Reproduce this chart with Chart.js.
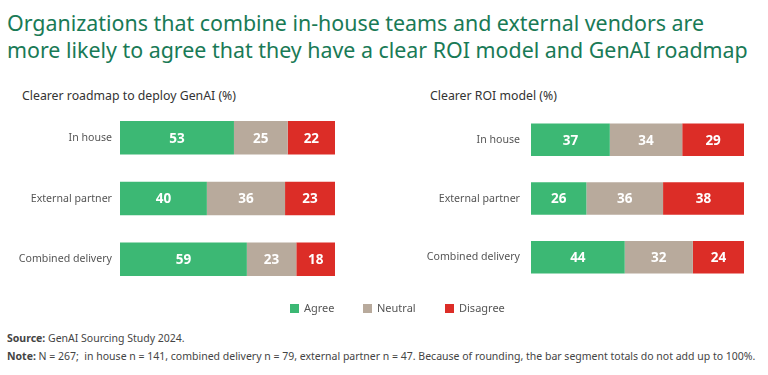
<!DOCTYPE html>
<html><head><meta charset="utf-8">
<script src="https://cdn.jsdelivr.net/npm/chart.js@4"></script>
<style>
html,body{margin:0;padding:0;background:#fff;width:768px;height:375px;overflow:hidden;font-family:"Noto Sans",sans-serif;}
#title{position:absolute;left:7px;top:9px;color:#197a56;font-size:21.4px;line-height:27px;white-space:nowrap;}
.sub{position:absolute;top:87px;font-size:12.3px;color:#333;white-space:nowrap;}
canvas.cv{position:absolute;}
#legend{position:absolute;top:300px;left:0;width:768px;font-size:11px;color:#555;}
.li{position:absolute;top:0;white-space:nowrap;line-height:16px;}
.sw{display:inline-block;width:9px;height:9px;margin-right:5px;vertical-align:-1px;}
.foot{position:absolute;left:7px;font-size:10.5px;color:#444;white-space:nowrap;}
</style></head><body>
<div id="title">Organizations that combine in-house teams and external vendors are<br>more likely to agree that they have a clear ROI model and GenAI roadmap</div>
<div class="sub" style="left:22px">Clearer roadmap to deploy GenAI (%)</div>
<div class="sub" style="left:430px">Clearer ROI model (%)</div>
<canvas id="c1" class="cv" width="345" height="211" style="left:0;top:93px;width:345px;height:211px"></canvas>
<canvas id="c2" class="cv" width="370" height="211" style="left:384px;top:93px;width:370px;height:211px"></canvas>
<div id="legend"></div>
<div class="foot" style="top:331px"><b>Source:</b> GenAI Sourcing Study 2024.</div>
<div class="foot" style="top:349px"><b>Note:</b> N = 267;&nbsp; in house n = 141, combined delivery n = 79, external partner n = 47. Because of rounding, the bar segment totals do not add up to 100%.</div>
<script>
const categories = ["In house", "External partner", "Combined delivery"];
const seriesNames = ["Agree", "Neutral", "Disagree"];
const colors = ["#3cb874", "#b8aa9c", "#dc2d27"];
const roadmapAgree = [53, 40, 59];
const roadmapNeutral = [25, 36, 23];
const roadmapDisagree = [22, 23, 18];
const roiAgree = [37, 26, 44];
const roiNeutral = [34, 36, 32];
const roiDisagree = [29, 38, 24];

const labelPlugin = {
  id: 'segLabels',
  afterDatasetsDraw(chart) {
    const ctx = chart.ctx;
    ctx.save();
    ctx.fillStyle = '#fff';
    ctx.font = 'bold 13.5px "Noto Sans", sans-serif';
    ctx.textAlign = 'center';
    ctx.textBaseline = 'middle';
    chart.data.datasets.forEach((ds, di) => {
      chart.getDatasetMeta(di).data.forEach((bar, i) => {
        const x = (bar.x + bar.base) / 2;
        ctx.fillText(String(ds.raw[i]), x, bar.y + 1);
      });
    });
    ctx.restore();
  }
};

function makeChart(id, series, axisWidth, pad) {
  const totals = categories.map((_, i) => series.reduce((s, a) => s + a[i], 0));
  return new Chart(document.getElementById(id), {
    type: 'bar',
    data: {
      labels: categories,
      datasets: series.map((arr, k) => ({
        label: seriesNames[k],
        raw: arr,
        data: arr.map((v, i) => v / totals[i] * 100),
        backgroundColor: colors[k],
        borderWidth: 0,
        categoryPercentage: 1,
        barPercentage: 0.555
      }))
    },
    options: {
      indexAxis: 'y',
      responsive: false,
      maintainAspectRatio: false,
      devicePixelRatio: 1,
      animation: false,
      layout: { padding: { top: 7, bottom: 0, left: 0, right: 10 } },
      plugins: { legend: { display: false }, tooltip: { enabled: false } },
      scales: {
        x: { stacked: true, min: 0, max: 100, display: false },
        y: {
          stacked: true,
          grid: { display: false, drawTicks: false },
          border: { display: false },
          ticks: { color: '#555', padding: pad, font: { family: '"Noto Sans", sans-serif', size: 10.6 } },
          afterFit(s) { s.width = axisWidth; }
        }
      }
    },
    plugins: [labelPlugin]
  });
}
makeChart('c1', [roadmapAgree, roadmapNeutral, roadmapDisagree], 120, 8);
makeChart('c2', [roiAgree, roiNeutral, roiDisagree], 147, 11);

const lg = document.getElementById('legend');
const lx = [290, 363, 445];
seriesNames.forEach((n, k) => {
  const d = document.createElement('div');
  d.className = 'li';
  d.style.left = lx[k] + 'px';
  d.innerHTML = '<span class="sw" style="background:' + colors[k] + '"></span>' + n;
  lg.appendChild(d);
});
</script>
</body></html>
